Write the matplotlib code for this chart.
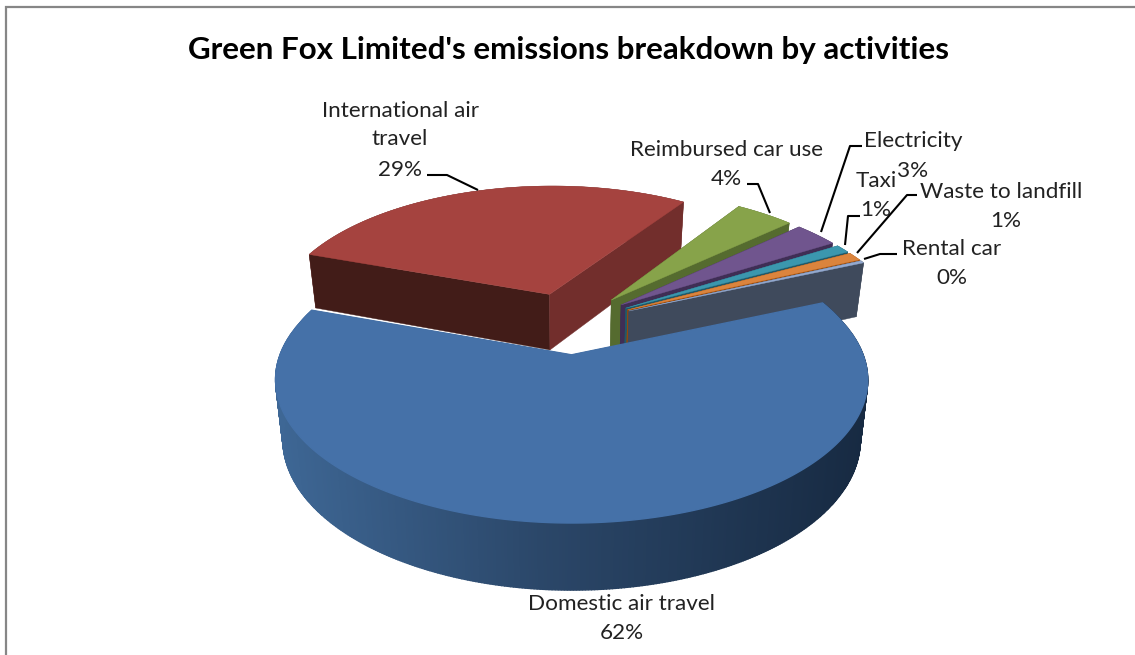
import numpy as np
import matplotlib
matplotlib.use("Agg")
import matplotlib.pyplot as plt
from matplotlib.colors import to_rgb
from matplotlib.patches import Polygon

# ---- data ----
categories = ["Domestic air travel", "International air\ntravel", "Reimbursed car use",
              "Electricity", "Taxi", "Waste to landfill", "Rental car"]
values = [62, 29, 4, 3, 1, 1, 0.3]
pct_labels = ["62%", "29%", "4%", "3%", "1%", "1%", "0%"]
title = "Green Fox Limited's emissions breakdown by activities"

# ---- style ----
top_colors = ["#4571A8", "#A5433F", "#87A34A", "#70558E", "#3B97AE", "#DB843D", "#93A9CF"]
start_face = ["#26405F", "#421C18", "#4F6128", "#3A2A4E", "#215968", "#984807", "#3F4A5C"]
end_face = ["#26405F", "#722E2C", "#556B2F", "#3F2E55", "#215968", "#984807", "#3F4A5C"]
name_xy = [(622, 610), (400, 145), (726, 156), (913, 147), (876, 187), (1001, 198), (952, 255)]
pct_xy = [(622, 639), (400, 176), (726, 185), (913, 177), (876, 216), (1006, 227), (952, 284)]
leaders = [None,
           [(427, 175), (447, 175), (478, 190)],
           [(747, 184), (758, 184), (770, 213)],
           [(862, 146), (850, 146), (821, 232)],
           [(860, 216), (848, 216), (845, 245)],
           [(917, 195), (907, 195), (857, 253)],
           [(897, 254), (880, 254), (864, 259)]]
START_DEG = 67.0
EXPLODE = 0.235
R, RB, K = 280.0, 135.5, 0.168
FRONT_SQUEEZE = 0.945
CX, CY = 569.5, 323.5
H = 57.0
BOTTOM_SCALE = 0.975

plt.rcParams["font.family"] = ["Lato", "DejaVu Sans"]
fig = plt.figure(figsize=(11.35, 6.55), dpi=100)
ax = fig.add_axes([0, 0, 1, 1])
ax.set_xlim(0, 1135)
ax.set_ylim(655, 0)
ax.axis("off")

# chart frame
ax.plot([6, 6, 1135], [655, 7, 7], color="#868686", lw=1.6, solid_joinstyle="miter")


def project(X, Y, bottom=False):
    w = 1 + K * Y
    sx = CX + R * X / w
    sy = CY - RB * np.where(Y < 0, FRONT_SQUEEZE, 1.0) * Y / w
    if bottom:
        sx = CX + (sx - CX) * BOTTOM_SCALE
        sy = sy + H / w ** 0.7
    return np.column_stack([sx, sy])


def fill(pts, color, z, lw=0.3):
    ax.add_patch(Polygon(pts, closed=True, facecolor=color, edgecolor=color, lw=lw, zorder=z))


def rim_color(frac):
    stops = np.array([0.0, 0.45, 1.0])
    cols = np.array([to_rgb("#3E6795"), to_rgb("#2B4769"), to_rgb("#172A42")])
    return [np.interp(frac, stops, cols[:, i]) for i in range(3)]


total = sum(values)
sweeps = [v / total * 360 for v in values]
starts = START_DEG + np.concatenate([[0], np.cumsum(sweeps)[:-1]])
draw_order = [1, 2, 3, 4, 5, 6, 0]

for z, i in enumerate(draw_order):
    t0, t1 = starts[i], starts[i] + sweeps[i]
    mid = np.radians((t0 + t1) / 2)
    ax0, ay0 = EXPLODE * np.sin(mid), EXPLODE * np.cos(mid)
    th = np.radians(np.linspace(t0, t1, max(int(sweeps[i] * 2), 6)))
    X = ax0 + np.sin(th)
    Y = ay0 + np.cos(th)
    top = project(X, Y)
    bot = project(X, Y, bottom=True)
    apex_t = project(np.array([ax0]), np.array([ay0]))
    apex_b = project(np.array([ax0]), np.array([ay0]), bottom=True)
    base = 10 * (z + 1)
    # rim: only the big front slice shows a shaded rim
    if i == 0:
        for j in range(len(th) - 1):
            frac = (top[j, 0] - 275) / (867 - 275)
            col = rim_color(np.clip(frac, 0, 1))
            fill([top[j], top[j + 1], bot[j + 1], bot[j]], col, base, lw=1.0)
    else:
        fill(np.vstack([top, bot[::-1]]), end_face[i], base)
    # cut faces
    fill([apex_t[0], top[0], bot[0], apex_b[0]], start_face[i], base + 1)
    fill([apex_t[0], top[-1], bot[-1], apex_b[0]], end_face[i], base + 2)
    # top face
    fill(np.vstack([apex_t, top]), top_colors[i], base + 3, lw=1.0 if i == 0 else 0.3)

for line in leaders:
    if line is not None:
        xs, ys = zip(*line)
        ax.plot(xs, ys, color="black", lw=1.5, zorder=200, solid_capstyle="butt")

for name, pct, (nx, ny), (px, py) in zip(categories, pct_labels, name_xy, pct_xy):
    ax.text(nx, ny, name, ha="center", va="baseline", fontsize=16.2,
            color="#222222", linespacing=1.48, zorder=210)
    ax.text(px, py, pct, ha="center", va="baseline", fontsize=16.2,
            color="#222222", zorder=210)

ax.text(569, 50, title, ha="center", va="center", fontsize=22.6, fontweight="bold",
        color="black", zorder=210)

fig.savefig("out.png", dpi=100)
